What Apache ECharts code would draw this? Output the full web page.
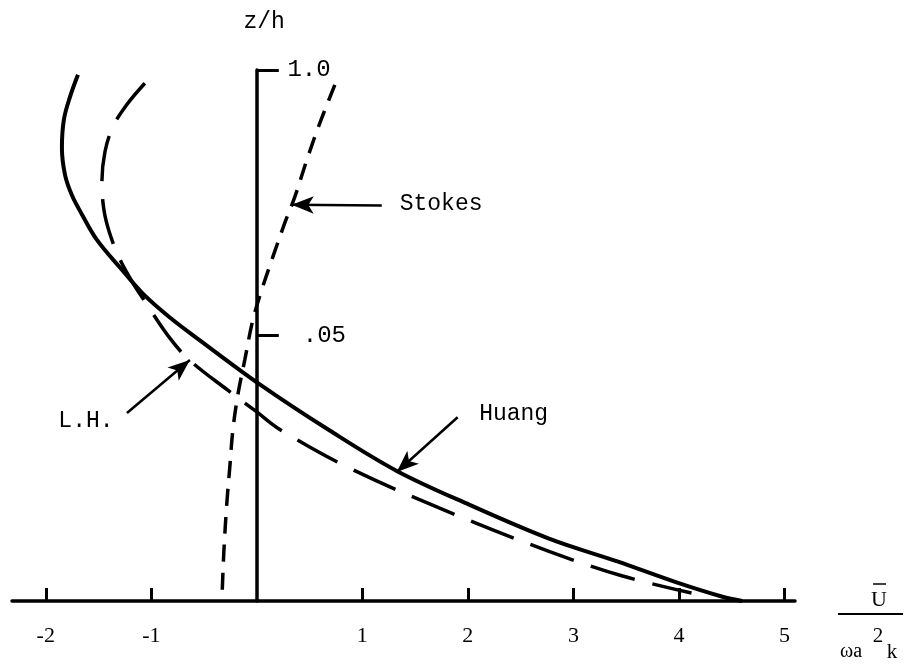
<!DOCTYPE html>
<html><head><meta charset="utf-8">
<script src="https://cdn.jsdelivr.net/npm/echarts@6/dist/echarts.min.js"></script>
<style>html,body{margin:0;padding:0;background:#fff}#c{width:913px;height:664px}</style>
</head><body><div id="c"></div>
<script>
// x = U / (omega a^2 k), y = z/h
const huangX = [-1.695,-1.771,-1.828,-1.847,-1.818,-1.752,-1.657,-1.515,-1.297,-1.080,-0.824,-0.540,0.028,0.691,1.326,2.017,2.775,3.409,3.977,4.413,4.600];
const huangY = [0.991,0.949,0.907,0.854,0.803,0.764,0.728,0.680,0.628,0.579,0.534,0.491,0.408,0.321,0.245,0.181,0.117,0.075,0.035,0.008,0.000];
const lhX = [-1.061,-1.231,-1.364,-1.439,-1.468,-1.449,-1.392,-1.297,-1.184,-1.080,-0.824,-0.634,-0.275,0.000,0.218,0.881,1.828,2.775,3.466,4.119];
const lhY = [0.975,0.935,0.893,0.846,0.789,0.737,0.691,0.643,0.602,0.570,0.495,0.453,0.397,0.356,0.323,0.250,0.167,0.093,0.047,0.015];
const stokesX = [0.739,0.597,0.483,0.360,0.265,0.152,0.047,-0.038,-0.114,-0.180,-0.227,-0.256,-0.284,-0.313,-0.331];
const stokesY = [0.972,0.900,0.836,0.761,0.712,0.648,0.586,0.529,0.454,0.388,0.322,0.252,0.185,0.090,0.000];
const xTicks = [-2,-1,1,2,3,4,5];
const xTickLabels = ['-2','-1','1','2','3','4','5'];
const yTicks = [0.5,1.0];
const yTickLabels = ['.05','1.0'];
// annotation arrows: [fromX, fromY, tipX, tipY]
const arrowStokes = [1.184,0.745,0.331,0.746];
const arrowLH = [-1.231,0.354,-0.634,0.454];
const arrowHuang = [1.903,0.346,1.326,0.243];

const zip = (a,b)=>a.map((v,i)=>[v,b[i]]);
const mono = '"Liberation Mono", "DejaVu Sans Mono", monospace';
const serif = '"Liberation Serif", "DejaVu Serif", serif';

const chart = echarts.init(document.getElementById('c'), null, {renderer:'canvas'});
function arrowLine(a){
  return {
    silent:true, symbol:['none','arrow'], symbolSize:[13,22],
    lineStyle:{color:'#000', width:2.5, type:'solid'}, label:{show:false},
    data:[[{coord:[a[0],a[1]]},{coord:[a[2],a[3]]}]]
  };
}
chart.setOption({
  animation:false,
  backgroundColor:'#fff',
  grid:{left:12, right:118, top:70, bottom:63},
  xAxis:{type:'value', min:-2.32, max:5.1,
    axisLine:{onZero:true, lineStyle:{color:'#000', width:3.5}},
    axisTick:{show:true, inside:true, length:13, customValues:xTicks, lineStyle:{color:'#000', width:3}},
    axisLabel:{show:true, customValues:xTicks, margin:24, color:'#000', fontFamily:serif, fontSize:22,
      formatter:v=>xTickLabels[xTicks.indexOf(v)] ?? ''},
    splitLine:{show:false}},
  yAxis:{type:'value', min:0, max:1,
    axisLine:{onZero:true, lineStyle:{color:'#000', width:3.5}},
    axisTick:{show:true, inside:true, length:22, customValues:yTicks, lineStyle:{color:'#000', width:3}},
    axisLabel:{show:false},
    splitLine:{show:false}},
  series:[
    {name:'Huang', type:'line', data:zip(huangX,huangY), smooth:0.35, showSymbol:false,
      lineStyle:{color:'#000', width:4}, markLine:arrowLine(arrowHuang)},
    {name:'L.H.', type:'line', data:zip(lhX,lhY), smooth:0.35, showSymbol:false,
      lineStyle:{color:'#000', width:3.5, type:[46,18]}, markLine:arrowLine(arrowLH)},
    {name:'Stokes', type:'line', data:zip(stokesX,stokesY), smooth:0.35, showSymbol:false,
      lineStyle:{color:'#000', width:3.5, type:[17,11]}, markLine:arrowLine(arrowStokes)}
  ]
});

function px(x,y){ return chart.convertToPixel({gridIndex:0},[x,y]); }
const txt = (p,s,align,size)=>({type:'text', x:p[0], y:p[1], style:{text:s, fill:'#000', font:(size||23)+'px '+mono, align:align||'center', verticalAlign:'middle'}});
const g = [
  txt(px(1.354,0.748),'Stokes','left'),
  txt(px(-1.619,0.339),'L.H.'),
  txt(px(2.434,0.352),'Huang'),
  txt(px(0.07,1.09),'z/h'),
  txt(px(0.29,1.0),yTickLabels[1],'left',24),
  txt(px(0.435,0.5),yTickLabels[0],'left',24),
  {type:'text', x:879, y:600, style:{text:'U', fill:'#000', font:'22px '+serif, align:'center', verticalAlign:'middle'}},
  {type:'line', shape:{x1:873,y1:584,x2:886,y2:584}, style:{stroke:'#000', lineWidth:1.5}},
  {type:'line', shape:{x1:838,y1:614,x2:903,y2:614}, style:{stroke:'#000', lineWidth:1.8}},
  {type:'text', x:851, y:652, style:{text:'ωa', fill:'#000', font:'20px '+serif, align:'center', verticalAlign:'middle'}},
  {type:'text', x:878, y:636, style:{text:'2', fill:'#000', font:'21px '+serif, align:'center', verticalAlign:'middle'}},
  {type:'text', x:892, y:652, style:{text:'k', fill:'#000', font:'21px '+serif, align:'center', verticalAlign:'middle'}}
];
chart.setOption({graphic:g});
</script></body></html>
